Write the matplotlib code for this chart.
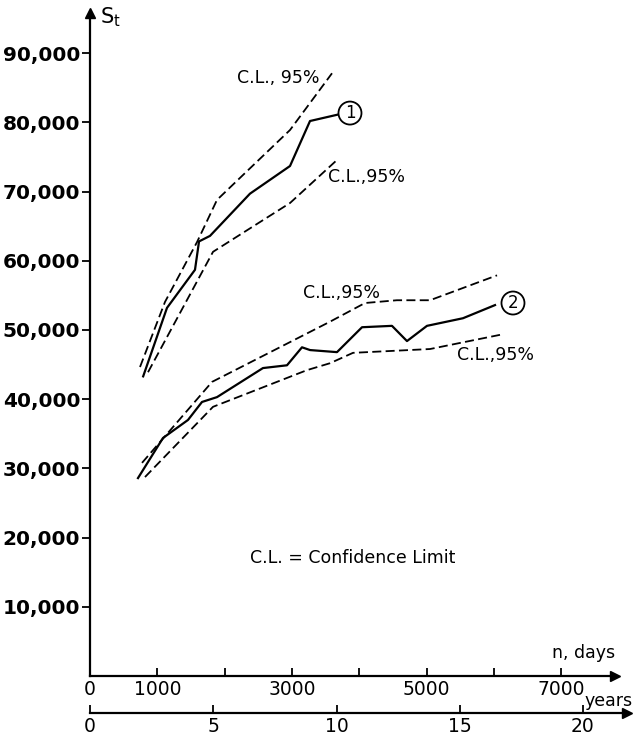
import matplotlib
matplotlib.use("Agg")
import matplotlib.pyplot as plt

# curve 1 and its 95% confidence limits (x in days, S_t)
c1_days = [790, 1144, 1560, 1620, 1783, 2377, 2972, 3269, 3715]
c1_vals = [43300, 53200, 58700, 62800, 63600, 69700, 73700, 80200, 81200]
c1_up_days = [743, 1114, 1590, 1887, 2972, 3596]
c1_up_vals = [44650, 54050, 62700, 68800, 78900, 87100]
c1_lo_days = [862, 1828, 2972, 3670]
c1_lo_vals = [43900, 61300, 68350, 74570]

# curve 2 and its 95% confidence limits
c2_days = [713, 1085, 1456, 1664, 1887, 2570, 2927, 3150, 3270, 3670,
           4042, 4487, 4710, 5007, 5542, 6018]
c2_vals = [28600, 34400, 37000, 39600, 40300, 44500, 44900, 47500, 47100, 46800,
           50400, 50600, 48400, 50600, 51700, 53600]
c2_up_days = [773, 1813, 3566, 4086, 4560, 5052, 6048]
c2_up_vals = [30800, 42500, 51200, 53900, 54300, 54300, 57900]
c2_lo_days = [817, 1828, 3224, 3566, 3908, 5052, 6092]
c2_lo_vals = [28750, 38900, 44200, 45200, 46700, 47250, 49300]

y_ticks = [10000, 20000, 30000, 40000, 50000, 60000, 70000, 80000, 90000]
y_labels = ["10,000", "20,000", "30,000", "40,000", "50,000",
            "60,000", "70,000", "80,000", "90,000"]
day_ticks = [0, 1000, 2000, 3000, 4000, 5000, 6000, 7000]
day_labels = ["0", "1000", "", "3000", "", "5000", "", "7000"]
year_ticks = [0, 5, 10, 15, 20]
year_labels = ["0", "5", "10", "15", "20"]

W, H = 634, 738
fig = plt.figure(figsize=(W / 100, H / 100), dpi=100)

# main axes: 0 days at px 90, 67.3 px per 1000 days; 0 at py 676, 69.2 px per 10k
ax = fig.add_axes([90 / W, (H - 676) / H, (615 - 90) / W, (676 - 13) / H])
ax.set_xlim(0, (615 - 90) / 0.0673)
ax.set_ylim(0, (676 - 13) / 0.00692)

solid = dict(color="k", lw=1.6)
dash = dict(color="k", lw=1.3, dashes=(5, 2.4))
ax.plot(c1_days, c1_vals, **solid)
ax.plot(c1_up_days, c1_up_vals, **dash)
ax.plot(c1_lo_days, c1_lo_vals, **dash)
ax.plot(c2_days, c2_vals, **solid)
ax.plot(c2_up_days, c2_up_vals, **dash)
ax.plot(c2_lo_days, c2_lo_vals, **dash)

for s in ["top", "right"]:
    ax.spines[s].set_visible(False)
for s in ["left", "bottom"]:
    ax.spines[s].set_linewidth(1.6)

ax.set_yticks(y_ticks)
ax.set_yticklabels(y_labels, fontsize=14.5, fontweight="bold")
ax.tick_params(axis="y", direction="out", length=6, width=1.3, pad=1)
ax.set_xticks(day_ticks)
ax.set_xticklabels(day_labels, fontsize=13.5)
ax.tick_params(axis="x", direction="in", length=6, width=1.3, pad=3)

# axis arrows
ax.plot(0, 1, marker="^", ms=7, color="k", transform=ax.transAxes, clip_on=False)
ax.plot(1, 0, marker=">", ms=7, color="k", transform=ax.transAxes, clip_on=False)

# text annotations
tk = dict(fontsize=12.5, color="k")
ax.text(2184, 86400, "C.L., 95%", ha="left", va="center", **tk)
ax.text(3536, 72100, "C.L.,95%", ha="left", va="center", **tk)
ax.text(3165, 55300, "C.L.,95%", ha="left", va="center", **tk)
ax.text(5453, 46400, "C.L.,95%", ha="left", va="center", **tk)
ax.text(2377, 17050, "C.L. = Confidence Limit", ha="left", va="center", **tk)
circ = dict(boxstyle="circle,pad=0.15", fc="white", ec="k", lw=1.3)
ax.text(3863, 81350, "1", ha="center", va="center", fontsize=12, bbox=circ)
ax.text(6285, 53900, "2", ha="center", va="center", fontsize=12, bbox=circ)

ax.text(1.0, 0.035, "n, days", transform=ax.transAxes, ha="right",
        va="center", fontsize=12.5)
fig.text(100 / W, 1 - 17 / H, r"$\mathrm{S_t}$", fontsize=15, va="center")

# years axis below
ax2 = fig.add_axes([90 / W, (H - 713) / H, (627 - 90) / W, 0.0001])
ax2.set_xlim(0, (627 - 90) / 24.65)
ax2.set_ylim(0, 1)
for s in ["top", "right", "left"]:
    ax2.spines[s].set_visible(False)
ax2.spines["bottom"].set_linewidth(1.6)
ax2.set_yticks([])
ax2.set_xticks(year_ticks)
ax2.set_xticklabels(year_labels, fontsize=13.5)
ax2.tick_params(axis="x", direction="in", length=6, width=1.3, pad=3)
ax2.plot(1, 0, marker=">", ms=7, color="k", transform=ax2.transAxes, clip_on=False)
fig.text(633 / W, 1 - 701 / H, "years", ha="right", va="center", fontsize=12.5)

fig.savefig("out.png", dpi=100)
